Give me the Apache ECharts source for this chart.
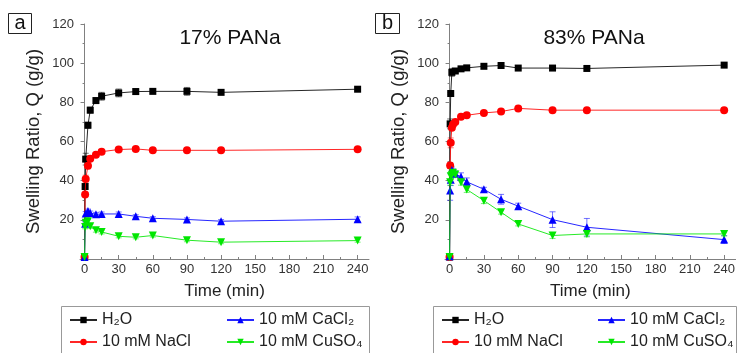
<!DOCTYPE html>
<html><head><meta charset="utf-8">
<script src="https://cdn.jsdelivr.net/npm/echarts@6/dist/echarts.min.js"></script>
<style>html,body{margin:0;padding:0;background:#fff}#c{width:738px;height:353px}</style>
</head><body><div id="c"></div>
<script>
// ---- data ----
const times = [0, 0.5, 1, 2, 3, 5, 10, 15, 30, 45, 60, 90, 120, 240];
const xTicks = [0, 30, 60, 90, 120, 150, 180, 210, 240];
const xMinorTicks = [15, 45, 75, 105, 135, 165, 195, 225];
const seriesNames = ['H\u2082O', '10 mM NaCl', '10 mM CaCl\u2082', '10 mM CuSO\u2084'];
const panelTitles = ['17% PANa', '83% PANa'];
const panelLetters = ['a', 'b'];

// panel a: 17% PANa
const a_H2O   = [1, 37, 51, null, 68.3, 76, 80.9, 83.1, 84.8, 85.5, 85.6, 85.6, 85.1, 86.7];
const a_NaCl  = [1, 32.9, 40.8, null, 47.6, 51.2, 53.2, 54.8, 55.9, 56.2, 55.5, 55.5, 55.5, 56];
const a_CaCl2 = [1, 18, 23.2, null, 24.5, 23.5, 22.8, 23, 23, 21.8, 20.8, 20.2, 19.3, 20.3];
const a_CuSO4 = [1, 16.4, 18.5, null, 19.3, 16.7, 14.7, 13.8, 11.6, 11.1, 12, 9.6, 8.6, 9.4];
const a_H2O_err   = [0, 0, 3, 0, 1.5, 1.5, 1.5, 2, 2, 1.5, 1, 2, 0.5, 1];
const a_NaCl_err  = [0, 1, 2, 0, 1.5, 0.8, 0.8, 1, 0.8, 0.8, 0.8, 0.5, 0.5, 0.8];
const a_CaCl2_err = [0, 1, 1, 0, 1, 1, 1, 1, 1, 0.8, 0.8, 0.8, 0.8, 1.2];
const a_CuSO4_err = [0, 1, 1, 0, 1, 1, 1, 1, 0.8, 0.8, 0.8, 0.8, 0.8, 0.8];

// panel b: 83% PANa
const b_H2O   = [1, 69, 84.5, 95.3, null, 96, 97.1, 97.6, 98.4, 98.8, 97.5, 97.5, 97.3, 99];
const b_NaCl  = [1, 47.7, 59.3, 67, 68.7, 70, 72.6, 73.4, 74.6, 75.3, 76.9, 76, 76, 76];
const b_CaCl2 = [1.4, 35, 40.5, 45.5, 44.5, 43.5, 42, 39.4, 35.6, 30.5, 27, 20.1, 16.2, 9.9];
const b_CuSO4 = [1, 39.2, 42.3, 43, 44, 43.1, 39.2, 35.5, 29.8, 23.9, 17.9, 12, 12.8, 12.8];
const b_H2O_err   = [0, 2.5, 0.5, 2, 0, 1, 0.8, 0.5, 0.5, 0.5, 0.5, 0.5, 0.5, 0.5];
const b_NaCl_err  = [0, 1.5, 2.5, 1, 1, 1, 0.8, 0.5, 0.5, 0.5, 1, 0.5, 0.5, 0.5];
const b_CaCl2_err = [0, 5, 3, 1.5, 1.5, 1.5, 2, 2, 1, 2.5, 1.5, 4, 4.5, 2];
const b_CuSO4_err = [0, 1.5, 1.5, 1.5, 1, 1, 1.5, 1.5, 1.5, 1, 1, 1.5, 1.5, 1];

const panels = [
  [a_H2O, a_NaCl, a_CaCl2, a_CuSO4],
  [b_H2O, b_NaCl, b_CaCl2, b_CuSO4]
];
const panelErrs = [
  [a_H2O_err, a_NaCl_err, a_CaCl2_err, a_CuSO4_err],
  [b_H2O_err, b_NaCl_err, b_CaCl2_err, b_CuSO4_err]
];

// ---- styles ----
const FONT = '"Liberation Sans", Arial, sans-serif';
const colors = ['#000000', '#ff0000', '#0000ff', '#00e600'];
const symbols = ['rect', 'circle', 'triangle', 'triangle'];
const symbolRot = [0, 0, 0, 180];
const symbolSizes = [7, 8, 8, 8];
const gridLefts = [80, 445];
const gridWidths = [289, 291];
const AXIS_COLOR = '#808080';
const LABEL_COLOR = '#333';

const chart = echarts.init(document.getElementById('c'), null, {renderer: 'canvas'});

const grids = [], xAxes = [], yAxes = [], series = [];
for (let p = 0; p < 2; p++) {
  grids.push({left: gridLefts[p], width: gridWidths[p], top: 24, height: 235, containLabel: false});
  xAxes.push({
    gridIndex: p, type: 'value', min: -4, max: 250,
    name: 'Time (min)', nameLocation: 'middle', nameGap: 24,
    nameTextStyle: {fontSize: 17, color: '#222', fontFamily: FONT},
    axisLine: {show: true, lineStyle: {color: AXIS_COLOR, width: 1}},
    axisTick: {show: true, inside: true, length: 4, customValues: xTicks, lineStyle: {color: AXIS_COLOR}},
    axisLabel: {customValues: xTicks, fontSize: 13, color: LABEL_COLOR, margin: 4, fontFamily: FONT},
    splitLine: {show: false}
  });
  xAxes.push({
    gridIndex: p, type: 'value', min: -4, max: 250, position: 'bottom',
    axisLine: {show: false},
    axisTick: {show: true, inside: true, length: 2, customValues: xMinorTicks, lineStyle: {color: AXIS_COLOR}},
    axisLabel: {show: false, customValues: xMinorTicks},
    splitLine: {show: false}
  });
  yAxes.push({
    gridIndex: p, type: 'value', min: 0, max: 120, interval: 20,
    name: 'Swelling Ratio, Q (g/g)', nameLocation: 'middle', nameGap: 37, nameRotate: 90,
    nameTextStyle: {fontSize: 18.5, color: '#222', fontFamily: FONT},
    axisLine: {show: true, lineStyle: {color: AXIS_COLOR, width: 1}},
    axisTick: {show: true, length: 4, lineStyle: {color: AXIS_COLOR}},
    minorTick: {show: true, splitNumber: 2, length: 2, lineStyle: {color: AXIS_COLOR}},
    axisLabel: {fontSize: 13, color: LABEL_COLOR, margin: 6, fontFamily: FONT,
      formatter: v => (v === 0 ? '' : String(v))},
    splitLine: {show: false}
  });
  for (let k = 0; k < 4; k++) {
    const vals = panels[p][k];
    const errs = panelErrs[p][k];
    const pts = [], eb = [];
    times.forEach((t, i) => {
      if (vals[i] != null) {
        pts.push([t, vals[i]]);
        if (errs[i] > 0) eb.push([t, vals[i] - errs[i], vals[i] + errs[i]]);
      }
    });
    const col = colors[k];
    series.push({
      type: 'custom', name: 'err' + p + k, xAxisIndex: p * 2, yAxisIndex: p, z: 1,
      encode: {x: 0, y: [1, 2]}, silent: true,
      renderItem: function (params, api) {
        const x = api.value(0), lo = api.value(1), hi = api.value(2);
        const p1 = api.coord([x, lo]), p2 = api.coord([x, hi]);
        const w = 3;
        const st = {stroke: col, lineWidth: 1, opacity: 0.55};
        return {type: 'group', children: [
          {type: 'line', shape: {x1: p1[0], y1: p1[1], x2: p2[0], y2: p2[1]}, style: st},
          {type: 'line', shape: {x1: p1[0] - w, y1: p1[1], x2: p1[0] + w, y2: p1[1]}, style: st},
          {type: 'line', shape: {x1: p2[0] - w, y1: p2[1], x2: p2[0] + w, y2: p2[1]}, style: st}
        ]};
      },
      data: eb
    });
    series.push({
      type: 'line', name: seriesNames[k], xAxisIndex: p * 2, yAxisIndex: p, z: 2 + k,
      data: pts, symbol: symbols[k], symbolRotate: symbolRot[k], symbolSize: symbolSizes[k],
      showAllSymbol: true, animation: false,
      lineStyle: {color: col, width: 1, opacity: 0.85},
      itemStyle: {color: col}
    });
  }
}

const legendBase = {
  orient: 'vertical', itemWidth: 27, itemHeight: 8, itemGap: 6, padding: 0,
  selectedMode: false, textStyle: {fontSize: 16, color: '#222', fontFamily: FONT, lineHeight: 16}
};
const legends = [
  Object.assign({}, legendBase, {left: 69, top: 312, data: [seriesNames[0], seriesNames[1]]}),
  Object.assign({}, legendBase, {left: 226, top: 312, data: [seriesNames[2], seriesNames[3]]}),
  Object.assign({}, legendBase, {left: 441, top: 312, data: [seriesNames[0], seriesNames[1]]}),
  Object.assign({}, legendBase, {left: 597, top: 312, data: [seriesNames[2], seriesNames[3]]})
];

const graphics = [
  {type: 'rect', shape: {x: 61.5, y: 306.5, width: 308, height: 60}, style: {fill: 'none', stroke: '#999', lineWidth: 1}, z: 0},
  {type: 'rect', shape: {x: 433.5, y: 306.5, width: 303, height: 60}, style: {fill: 'none', stroke: '#999', lineWidth: 1}, z: 0},
  {type: 'rect', shape: {x: 8.5, y: 13.5, width: 23, height: 20}, style: {fill: '#fff', stroke: '#222', lineWidth: 1}},
  {type: 'rect', shape: {x: 375.5, y: 13.5, width: 24, height: 20}, style: {fill: '#fff', stroke: '#222', lineWidth: 1}},
  {type: 'text', x: 20, y: 23, style: {text: panelLetters[0], font: '20px ' + FONT, fill: '#111', align: 'center', verticalAlign: 'middle'}},
  {type: 'text', x: 387.5, y: 23, style: {text: panelLetters[1], font: '20px ' + FONT, fill: '#111', align: 'center', verticalAlign: 'middle'}},
  {type: 'text', x: 230, y: 38, style: {text: panelTitles[0], font: '21px ' + FONT, fill: '#111', align: 'center', verticalAlign: 'middle'}},
  {type: 'text', x: 594, y: 38, style: {text: panelTitles[1], font: '21px ' + FONT, fill: '#111', align: 'center', verticalAlign: 'middle'}}
];

chart.setOption({
  animation: false,
  textStyle: {fontFamily: FONT},
  grid: grids, xAxis: xAxes, yAxis: yAxes, series: series,
  legend: legends, graphic: graphics
});
</script>
</body></html>
